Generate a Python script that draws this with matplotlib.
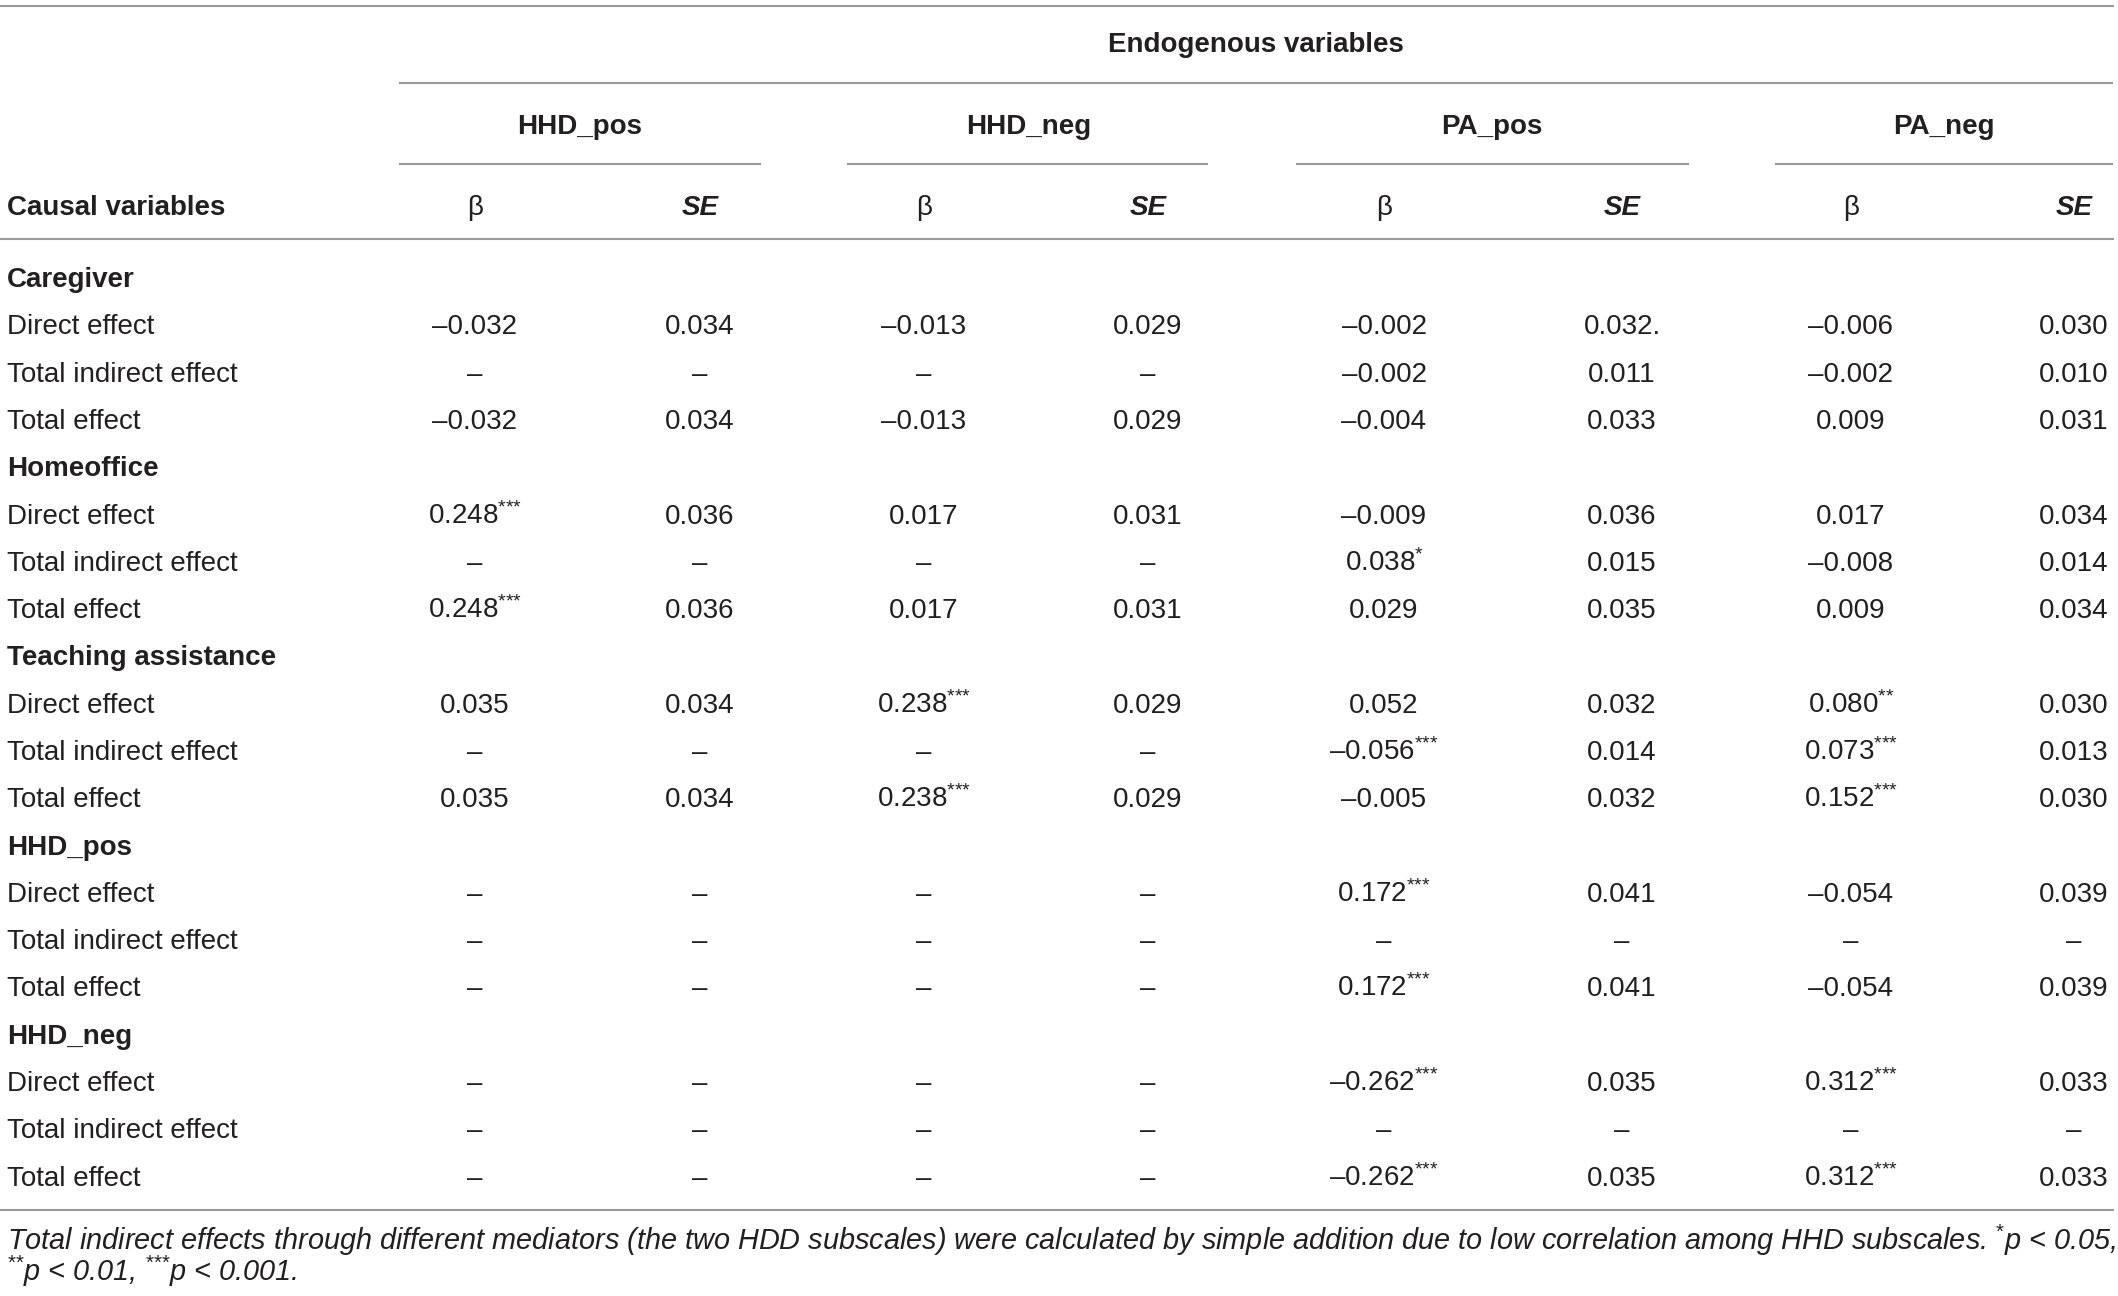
import matplotlib
matplotlib.use("Agg")
import matplotlib.pyplot as plt

# table layout is done in pixel coords of the 2118x1296 picture
plt.rcParams['font.family'] = ['Liberation Sans', 'DejaVu Sans']
plt.rcParams['mathtext.fontset'] = 'custom'
plt.rcParams['mathtext.rm'] = 'Liberation Sans'
plt.rcParams['mathtext.it'] = 'Liberation Sans:italic'
plt.rcParams['mathtext.bf'] = 'Liberation Sans:bold'

title = "Endogenous variables"
outcomes = ["HHD_pos", "HHD_neg", "PA_pos", "PA_neg"]
causes = ["Caregiver", "Homeoffice", "Teaching assistance", "HHD_pos", "HHD_neg"]
effects = ["Direct effect", "Total indirect effect", "Total effect"]
D = "\u2013"

# one list per column, 15 rows (5 causes x 3 effects)
hhd_pos_b = ["–0.032", D, "–0.032", "0.248***", D, "0.248***", "0.035", D, "0.035",
             D, D, D, D, D, D]
hhd_pos_se = ["0.034", D, "0.034", "0.036", D, "0.036", "0.034", D, "0.034",
              D, D, D, D, D, D]
hhd_neg_b = ["–0.013", D, "–0.013", "0.017", D, "0.017", "0.238***", D, "0.238***",
             D, D, D, D, D, D]
hhd_neg_se = ["0.029", D, "0.029", "0.031", D, "0.031", "0.029", D, "0.029",
              D, D, D, D, D, D]
pa_pos_b = ["–0.002", "–0.002", "–0.004", "–0.009", "0.038*", "0.029",
            "0.052", "–0.056***", "–0.005", "0.172***", D, "0.172***",
            "–0.262***", D, "–0.262***"]
pa_pos_se = ["0.032.", "0.011", "0.033", "0.036", "0.015", "0.035",
             "0.032", "0.014", "0.032", "0.041", D, "0.041",
             "0.035", D, "0.035"]
pa_neg_b = ["–0.006", "–0.002", "0.009", "0.017", "–0.008", "0.009",
            "0.080**", "0.073***", "0.152***", "–0.054", D, "–0.054",
            "0.312***", D, "0.312***"]
pa_neg_se = ["0.030", "0.010", "0.031", "0.034", "0.014", "0.034",
             "0.030", "0.013", "0.030", "0.039", D, "0.039",
             "0.033", D, "0.033"]
columns = [hhd_pos_b, hhd_pos_se, hhd_neg_b, hhd_neg_se,
           pa_pos_b, pa_pos_se, pa_neg_b, pa_neg_se]

note1 = ("Total indirect effects through different mediators (the two HDD subscales) "
         "were calculated by simple addition due to low correlation among HHD subscales. ")

W, H = 2118, 1296
fig = plt.figure(figsize=(W / 100, H / 100), dpi=100)
ax = fig.add_axes([0, 0, 1, 1])
ax.set_xlim(0, W)
ax.set_ylim(H, 0)
ax.axis('off')

ink = '#231f20'
rule = '#9a9a9a'
fs = 20

col_x = [475, 700, 924, 1148, 1384, 1622, 1851, 2074]
grp_x = [580, 1029, 1492, 1944]
grp_span = [(399, 761), (847, 1208), (1296, 1689), (1775, 2113)]
left = 7
base = 10  # baseline offset from row centre


def sup(n):
    # braces keep mathtext from spacing the stars as binary operators
    return r"$^{" + "{*}" * n + "}$"


def stars(s):
    n = len(s) - len(s.rstrip('*'))
    if n == 0:
        return s
    return s[:-n] + sup(n)


def hline(y, x0, x1):
    ax.plot([x0, x1], [y, y], color=rule, lw=1.5, solid_capstyle='butt')


# header
hline(6, 0, 2114)
ax.text(1256, 42 + base, title, ha='center', va='baseline', fontsize=fs,
        fontweight='bold', color=ink)
hline(83, 399, 2113)
for name, gx, (x0, x1) in zip(outcomes, grp_x, grp_span):
    ax.text(gx, 124 + base, name, ha='center', va='baseline', fontsize=fs,
            fontweight='bold', color=ink)
    hline(164, x0, x1)

ax.text(left, 205 + base, "Causal variables", ha='left', va='baseline',
        fontsize=fs, fontweight='bold', color=ink)
for i, cx in enumerate(col_x):
    if i % 2 == 0:
        ax.text(cx, 205 + base, "\u03b2", ha='center', va='baseline',
                fontsize=fs, color=ink)
    else:
        ax.text(cx, 205 + base, "SE", ha='center', va='baseline', fontsize=fs,
                fontweight='bold', style='italic', color=ink)
hline(239, 0, 2114)

# body
y0, step = 277, 47.3
r = 0
for gi, cause in enumerate(causes):
    ax.text(left, y0 + r * step + base, cause, ha='left', va='baseline',
            fontsize=fs, fontweight='bold', color=ink)
    r += 1
    for ei, eff in enumerate(effects):
        y = y0 + r * step + base
        ax.text(left, y, eff, ha='left', va='baseline', fontsize=fs, color=ink)
        k = gi * 3 + ei
        for cx, col in zip(col_x, columns):
            ax.text(cx, y, stars(col[k]), ha='center', va='baseline',
                    fontsize=fs, color=ink)
        r += 1

hline(1210, 0, 2114)

# footnote
fn = 20.8
ax.text(left, 1240 + base, note1 + sup(1) + "p < 0.05,", ha='left',
        va='baseline', fontsize=fn, style='italic', color=ink)
ax.text(left, 1271 + base, sup(2) + "p < 0.01, " + sup(3) + "p < 0.001.",
        ha='left', va='baseline', fontsize=fn, style='italic', color=ink)

fig.savefig("out.png", dpi=100, facecolor='white')
